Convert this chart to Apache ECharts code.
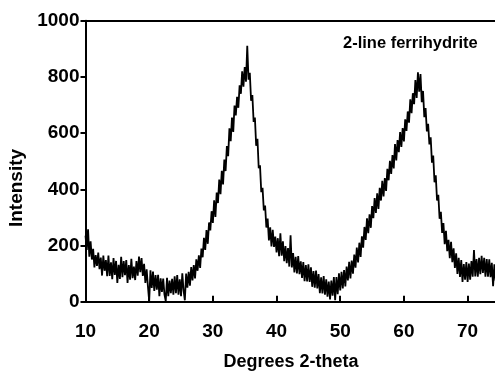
<!DOCTYPE html>
<html>
<head>
<meta charset="utf-8">
<script src="https://cdn.jsdelivr.net/npm/echarts@6/dist/echarts.min.js"></script>
<style>html,body{margin:0;padding:0;background:#fff}#chart{width:495px;height:372px}</style>
</head>
<body>
<div id="chart"></div>
<script>
// XRD pattern of 2-line ferrihydrite, sampled on a 0.2 deg 2-theta grid starting at 10.0
const twoThetaStart = 10.0;
const twoThetaStep = 0.2;
const intensity = [
  235, 184, 258, 160, 215, 150, 188, 122, 166, 127,
  175, 116, 157, 93, 164, 110, 148, 91, 164, 92,
  140, 80, 155, 95, 145, 67, 131, 81, 160, 87,
  145, 94, 148, 67, 130, 78, 153, 84, 125, 77,
  145, 93, 161, 105, 155, 92, 135, 67, 115, 55,
  2, 112, 49, 107, 38, 95, 43, 96, 20, 83,
  35, 82, 25, 2, 85, 20, 75, 30, 81, 25,
  90, 30, 95, 25, 80, 20, 101, 40, 5, 100,
  50, 106, 57, 123, 76, 130, 83, 151, 110, 165,
  120, 189, 158, 227, 184, 255, 206, 282, 254, 322,
  280, 361, 302, 388, 351, 435, 383, 466, 417, 506,
  465, 554, 518, 617, 571, 655, 604, 698, 663, 729,
  690, 770, 740, 820, 765, 835, 783, 911, 790, 815,
  715, 735, 640, 655, 555, 580, 475, 485, 390, 405,
  325, 342, 264, 296, 218, 265, 197, 256, 195, 232,
  175, 226, 162, 243, 164, 215, 144, 198, 137, 191,
  125, 236, 122, 173, 104, 160, 101, 162, 98, 144,
  85, 141, 73, 130, 72, 133, 70, 122, 53, 109,
  50, 111, 47, 98, 30, 87, 29, 91, 25, 80,
  18, 72, 8, 75, 21, 88, 5, 88, 27, 101,
  40, 106, 47, 113, 54, 125, 76, 142, 83, 146,
  100, 168, 121, 193, 140, 210, 159, 233, 192, 266,
  220, 297, 244, 311, 263, 340, 297, 369, 316, 386,
  330, 405, 360, 430, 375, 440, 394, 473, 432, 501,
  455, 522, 474, 561, 503, 575, 532, 604, 551, 618,
  570, 649, 608, 677, 637, 720, 671, 742, 703, 789,
  725, 816, 747, 810, 710, 750, 657, 689, 606, 633,
  560, 585, 495, 520, 425, 450, 360, 380, 295, 320,
  245, 280, 205, 252, 180, 220, 155, 213, 141, 190,
  120, 172, 99, 156, 88, 148, 70, 134, 78, 141,
  70, 136, 78, 145, 89, 184, 90, 152, 89, 156,
  98, 163, 102, 156, 89, 152, 89, 151, 87, 138,
  55, 133, 75
];
// visible 2-theta window (plot is cut at the right edge of the picture)
const xAxisMin = 10, xAxisMax = 74.3, xAxisInterval = 10;
const yAxisMin = 0, yAxisMax = 1000, yAxisInterval = 200;
const xTitle = 'Degrees 2-theta';
const yTitle = 'Intensity';
const sampleLabel = '2-line ferrihydrite';

const points = intensity.map((v, i) => [+(twoThetaStart + i * twoThetaStep).toFixed(2), v]);

const FONT = "'Liberation Sans', Arial, sans-serif";
const chart = echarts.init(document.getElementById('chart'), null, {renderer: 'canvas'});
chart.setOption({
  animation: false,
  backgroundColor: '#ffffff',
  grid: {left: 85.5, top: 20.7, bottom: 70.3, right: 0, containLabel: false},
  xAxis: [{
    type: 'value', min: xAxisMin, max: xAxisMax, interval: xAxisInterval,
    axisLine: {onZero: false, lineStyle: {color: '#000', width: 2}},
    axisTick: {inside: true, length: 6, lineStyle: {color: '#000', width: 2}},
    axisLabel: {color: '#000', fontFamily: FONT, fontWeight: 'bold', fontSize: 19, margin: 21,
      showMaxLabel: false,
      formatter: v => (Math.abs(v - Math.round(v)) < 1e-6 && Math.round(v) % 10 === 0) ? String(Math.round(v)) : ''},
    splitLine: {show: false}
  }, {
    type: 'value', position: 'top', min: xAxisMin, max: xAxisMax, interval: xAxisInterval,
    axisLine: {onZero: false, lineStyle: {color: '#000', width: 2}},
    axisTick: {show: false}, axisLabel: {show: false}, splitLine: {show: false}
  }],
  yAxis: {
    type: 'value', min: yAxisMin, max: yAxisMax, interval: yAxisInterval,
    axisLine: {show: true, onZero: false, lineStyle: {color: '#000', width: 2}},
    axisTick: {show: true, inside: false, length: 5, lineStyle: {color: '#000', width: 2}},
    axisLabel: {color: '#000', fontFamily: FONT, fontWeight: 'bold', fontSize: 19, margin: 6,
      formatter: v => String(v)},
    splitLine: {show: false}
  },
  series: [{
    type: 'line', xAxisIndex: 0, data: points, showSymbol: false, symbol: 'none',
    lineStyle: {color: '#000', width: 1.8}, clip: true
  }],
  graphic: [
    {type: 'text', x: 17, y: 188, rotation: Math.PI / 2,
     style: {text: yTitle, fill: '#000', font: "bold 19px " + FONT, align: 'center', verticalAlign: 'middle'}},
    {type: 'text', x: 291, y: 362,
     style: {text: xTitle, fill: '#000', font: "bold 18px " + FONT, align: 'center', verticalAlign: 'middle'}},
    {type: 'text', x: 343, y: 43,
     style: {text: sampleLabel, fill: '#000', font: "bold 16.5px " + FONT, align: 'left', verticalAlign: 'middle'}}
  ]
});
</script>
</body>
</html>
